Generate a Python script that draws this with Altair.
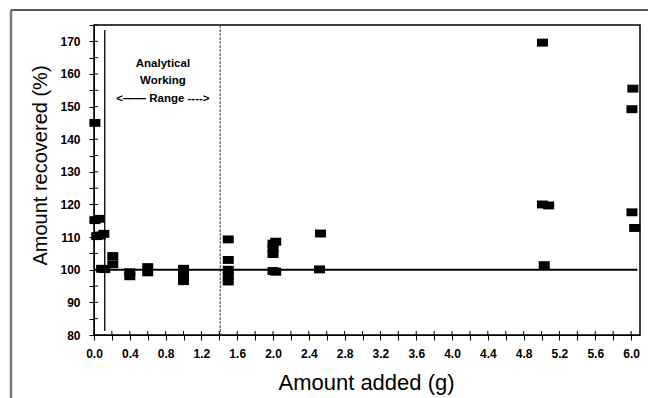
import altair as alt
import pandas as pd

# Data
amount_added = [0.01, 0.01, 0.055, 0.03, 0.07, 0.11, 0.085, 0.12,
                0.21, 0.21, 0.40, 0.40, 0.60, 0.60,
                1.00, 1.00, 1.00, 1.00,
                1.50, 1.50, 1.50, 1.50, 1.50,
                2.00, 2.00, 2.00, 2.03, 2.00, 2.03,
                2.53, 2.52,
                5.01, 5.01, 5.08, 5.03,
                6.02, 6.01, 6.01, 6.04]
amount_recovered = [145.0, 115.2, 115.6, 110.3, 110.5, 111.0, 100.3, 100.2,
                    104.2, 101.7, 99.2, 98.0, 100.8, 99.2,
                    100.3, 99.0, 97.6, 96.5,
                    109.3, 103.0, 100.0, 98.2, 96.4,
                    108.0, 106.5, 104.8, 108.6, 99.6, 99.4,
                    111.1, 100.1,
                    169.6, 120.0, 119.7, 101.4,
                    155.5, 149.2, 117.6, 112.8]

ref_level = [100]
range_low = [0.12]
range_high = [1.41]
annot_lines = ["Analytical", "Working", "<\u2014\u2014 Range ---->"]
annot_y = [163.0, 157.7, 152.4]

W, H = 546, 310

pts = pd.DataFrame({"x": amount_added, "y": amount_recovered})
xs = alt.Scale(domain=[0, 6.1], nice=False, zero=False)
ys = alt.Scale(domain=[80, 175], nice=False, zero=False)

x_ticks = [round(i * 0.2, 1) for i in range(31)]
y_ticks = list(range(80, 176, 5))

x_axis = alt.Axis(values=x_ticks, labelExpr="(round(datum.value*10) % 4 == 0) ? format(datum.value, '.1f') : ''",
                  title="Amount added (g)", grid=False, domainColor="black", tickColor="black",
                  tickSize=5, labelFont="Liberation Sans", labelFontWeight="bold", labelFontSize=12,
                  labelColor="black", labelPadding=8, labelOverlap=False, titleFont="Liberation Sans",
                  titleFontSize=22, titleFontWeight="normal", titleColor="black",
                  titleX=272, titleY=47, titleBaseline="middle", labelFlush=False)
y_axis = alt.Axis(values=y_ticks, labelExpr="(datum.value % 10 == 0) ? datum.value : ''",
                  title="Amount recovered (%)", grid=False, domainColor="black", tickColor="black",
                  tickSize=5, labelFont="Liberation Sans", labelFontWeight="bold", labelFontSize=12,
                  labelColor="black", labelPadding=9, labelOverlap=False, titleFont="Liberation Sans",
                  titleFontSize=20, titleFontWeight="normal", titleColor="black",
                  titleX=-54, titleY=140, titleBaseline="middle", titleAlign="center")

points = alt.Chart(pts).mark_point(
    shape="M-1,-0.72H1V0.72H-1Z", filled=True, color="black", opacity=1, size=121
).encode(x=alt.X("x:Q", scale=xs, axis=x_axis), y=alt.Y("y:Q", scale=ys, axis=y_axis))

hline = alt.Chart(pd.DataFrame({"y": ref_level, "x": [0.0], "x2": [6.07]})).mark_rule(
    color="black", strokeWidth=2
).encode(x=alt.X("x:Q", scale=xs, axis=x_axis), x2="x2:Q", y=alt.Y("y:Q", scale=ys, axis=y_axis))

vline1 = alt.Chart(pd.DataFrame({"x": range_low, "y": [173.5], "y2": [81.2]})).mark_rule(
    color="black", strokeWidth=1.3
).encode(x=alt.X("x:Q", scale=xs, axis=x_axis), y=alt.Y("y:Q", scale=ys, axis=y_axis), y2="y2:Q")

vline2 = alt.Chart(pd.DataFrame({"x": range_high, "y": [175], "y2": [80]})).mark_rule(
    color="#444444", strokeWidth=1, strokeDash=[3, 1]
).encode(x=alt.X("x:Q", scale=xs, axis=x_axis), y=alt.Y("y:Q", scale=ys, axis=y_axis), y2="y2:Q")

annot = alt.Chart(pd.DataFrame({"t": annot_lines, "x": [0.77, 0.77, 0.77], "y": annot_y})).mark_text(
    font="Liberation Sans", fontSize=11.5, fontWeight="bold", color="black", align="center", baseline="middle"
).encode(x=alt.X("x:Q", scale=xs, axis=x_axis), y=alt.Y("y:Q", scale=ys, axis=y_axis), text="t:N")

# inner halves of the crossing tick marks
xt_in = alt.Chart(pd.DataFrame({"x": x_ticks})).mark_rule(color="black", strokeWidth=1).encode(
    x=alt.X("x:Q", scale=xs, axis=x_axis), y=alt.value(H - 4), y2=alt.value(H))
yt_in = alt.Chart(pd.DataFrame({"y": y_ticks})).mark_rule(color="black", strokeWidth=1).encode(
    y=alt.Y("y:Q", scale=ys, axis=y_axis), x=alt.value(0), x2=alt.value(4))

# outer frame of the figure
frame_top = alt.Chart(pd.DataFrame({"a": [0]})).mark_rule(color="#555555", strokeWidth=2).encode(
    x=alt.value(-83), x2=alt.value(580), y=alt.value(-15))
frame_left = alt.Chart(pd.DataFrame({"a": [0]})).mark_rule(color="#777777", strokeWidth=2.5).encode(
    x=alt.value(-83), y=alt.value(-15), y2=alt.value(400))

chart = alt.layer(points, vline1, vline2, hline, annot, xt_in, yt_in, frame_top, frame_left).properties(
    width=W, height=H,
    autosize=alt.AutoSizeParams(type="none"),
    padding={"left": 86, "top": 17, "right": 8, "bottom": 75},
    background="white",
).configure_view(stroke="black", strokeWidth=1.5)

chart.save("out.html", embed_options={"renderer": "svg", "actions": False})
